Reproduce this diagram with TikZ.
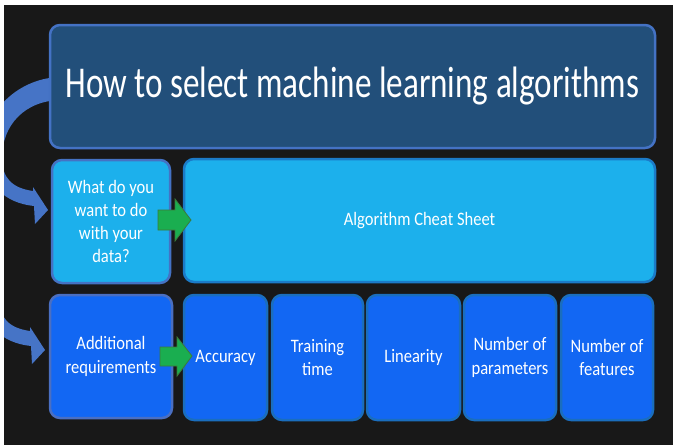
\documentclass[tikz,border=0pt]{standalone}
\usepackage{fontspec}
\setmainfont{Carlito}[FakeStretch=0.87]
\definecolor{pagebg}{HTML}{181818}
\definecolor{titlefill}{HTML}{224F7A}
\definecolor{titleedge}{HTML}{4472C4}
\definecolor{skyfill}{HTML}{1CB0EC}
\definecolor{skyedge}{HTML}{1B7BC8}
\definecolor{royalfill}{HTML}{1267F3}
\definecolor{royaledge}{HTML}{1A6EBE}
\definecolor{slateedge}{HTML}{4A6FC2}
\definecolor{stepgreen}{HTML}{1AAE50}
\definecolor{stepgreenedge}{HTML}{3C7A3C}
\definecolor{bendblue}{HTML}{4674C6}
\tikzset{
  box/.style={rounded corners=10pt, line width=2.5pt, text=white, align=center,
    inner sep=0pt, font=\fontsize{19}{23.3}\selectfont},
  pushright/.style={fill=stepgreen, draw=stepgreenedge, line width=0.8pt, line join=miter},
  bent/.style={insert path={(62,77) .. controls (20,77) and (-16,110) .. (-16,150)
    .. controls (-16,185) and (5,203) .. (34,206)
    -- (35,224) -- (48,210) -- (33,187) -- (33,191)
    .. controls (12,188) and (2,178) .. (2,158)
    .. controls (2,125) and (25,100) .. (62,100) -- cycle}}
}
\begin{document}
\begin{tikzpicture}[x=1pt,y=-1pt]
\useasboundingbox (0,0) rectangle (673,445);
% page and dark panel
\fill[white] (0,0) rectangle (673,445);
\fill[pagebg] (4,5) rectangle (673,445);

% curved feed-in arrows on the left
\begin{scope}
  \clip (4,5) rectangle (673,445);
  \fill[bendblue, bent];
\end{scope}
\begin{scope}
  \clip (4,290) rectangle (60,445);
  \begin{scope}[shift={(-3,140)}]
    \fill[bendblue, bent];
  \end{scope}
\end{scope}

% header
\node[box, fill=titlefill, draw=titleedge, minimum width=605pt, minimum height=123pt,
  font=\fontsize{44}{53}\selectfont] (title) at (352.5,86.5)
  {\scalebox{0.865}[1]{How to select machine learning algorithms}};

% second row
\node[box, fill=skyfill, draw=titleedge, minimum width=118pt, minimum height=123pt]
  (goal) at (111,221.5) {What do you\\want to do\\with your\\data?};
\node[box, fill=skyfill, draw=skyedge, minimum width=471pt, minimum height=123pt]
  (cheat) at (419.5,220.5) {Algorithm Cheat Sheet};

% third row
\node[box, fill=royalfill, draw=slateedge, minimum width=122pt, minimum height=123pt]
  (req) at (111,356.5) {Additional\\requirements};
\node[box, fill=royalfill, draw=royaledge, minimum width=83pt, minimum height=125pt]
  (acc) at (225.5,357.5) {Accuracy};
\node[box, fill=royalfill, draw=royaledge, minimum width=91pt, minimum height=125pt]
  (train) at (317.5,357.5) {Training\\time};
\node[box, fill=royalfill, draw=royaledge, minimum width=93pt, minimum height=125pt]
  (lin) at (413.5,357.5) {Linearity};
\node[box, fill=royalfill, draw=royaledge, minimum width=92pt, minimum height=125pt]
  (params) at (510,357.5) {Number of\\parameters};
\node[box, fill=royalfill, draw=royaledge, minimum width=92pt, minimum height=125pt]
  (feats) at (607,357.5) {Number of\\features};

% green block arrows between the rows' first two boxes
\path[pushright] (158,210) -- (175,210) -- (175,199) -- (191,220)
  -- (175,241) -- (175,230) -- (158,230) -- cycle;
\path[pushright] (160,347) -- (177,347) -- (177,337) -- (192,356)
  -- (177,376) -- (177,366) -- (160,366) -- cycle;
\end{tikzpicture}
\end{document}
